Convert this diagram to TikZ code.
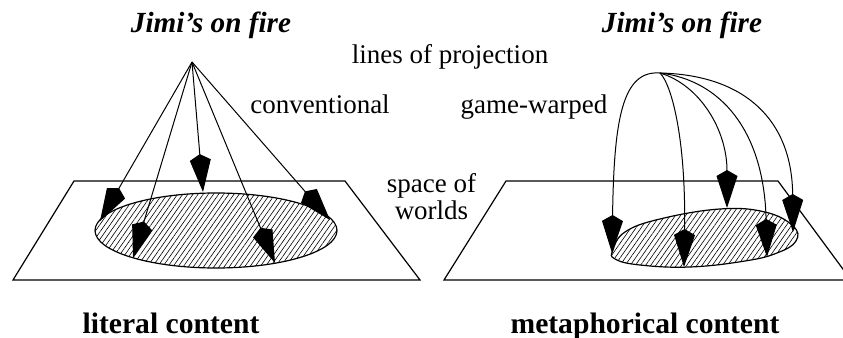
\documentclass[tikz,border=0pt]{standalone}
\usepackage{fontspec}
\setmainfont{Liberation Serif}
\usetikzlibrary{arrows.meta,patterns.meta}
\tikzset{
  plane/.style = {line width=0.6pt, line join=miter},
  world/.style = {draw, line width=0.6pt,
                  pattern={Lines[angle=55,distance=2.1pt,line width=0.3pt]}},
  proj/.style  = {line width=0.5pt, -{Kite[length=19pt,width=10.5pt,inset=3pt]}},
  lbl/.style   = {font=\fontsize{13.5}{10.5}\selectfont, anchor=base, inner sep=0pt},
  ttl/.style   = {font=\fontsize{14.6}{17}\selectfont\bfseries\itshape, anchor=base, inner sep=0pt},
  capt/.style  = {font=\fontsize{14.8}{17}\selectfont\bfseries, anchor=base, inner sep=0pt},
}

\begin{document}
\begin{tikzpicture}[x=0.5pt,y=-0.5pt]
  \clip (0,0) rectangle (843,338);

  % literal content
  \draw[plane] (13,280) -- (74,181) -- (345,181) -- (420,280) -- cycle;
  \draw[world] (216,230.5) ellipse [x radius=121, y radius=37.5];
  \coordinate (lit) at (192,62);
  \coordinate (l1) at (100,221);
  \coordinate (l2) at (133,258);
  \coordinate (l3) at (203,192);
  \coordinate (l4) at (275,263);
  \coordinate (l5) at (330,220);
  \foreach \t in {l1,l2,l3,l4,l5}
    \draw[proj] (lit) -- (\t);

  % metaphorical content
  \draw[plane] (444,280) -- (506,181) -- (778,181) -- (851,280) -- cycle;
  \draw[world] plot[smooth cycle, tension=0.7] coordinates {
    (613,250) (625,232) (660,219) (720,209) (765,212) (793,226) (796,241)
    (777,253) (745,261) (690,267) (640,265) (615,259)};
  \coordinate (met) at (660,73);
  \coordinate (m1) at (612,253);
  \coordinate (m2) at (684,267);
  \coordinate (m3) at (727,208);
  \coordinate (m4) at (767,257);
  \coordinate (m5) at (793,232);
  \draw[proj] (met) .. controls (622,70) and (614,120) .. (m1);
  \draw[proj] (met) .. controls (672,85) and (686,140) .. (m2);
  \draw[proj] (met) .. controls (700,85) and (727,130) .. (m3);
  \draw[proj] (met) .. controls (720,80) and (764,130) .. (m4);
  \draw[proj] (met) .. controls (745,75) and (792,120) .. (m5);

  % labels
  \node[ttl] (jimiL) at (211,32) {Jimi’s on fire};
  \node[ttl] (jimiR) at (682,32) {Jimi’s on fire};
  \node[lbl] (lines) at (450,63) {lines of projection};
  \node[lbl] (conv) at (320,113) {conventional};
  \node[lbl] (warp) at (534,113) {game-warped};
  \node[lbl, align=center] (space) at (431.5,219) {space of\\worlds};
  \node[capt] (litc) at (171,333) {literal content};
  \node[capt] (metc) at (645,333) {metaphorical content};
\end{tikzpicture}
\end{document}
